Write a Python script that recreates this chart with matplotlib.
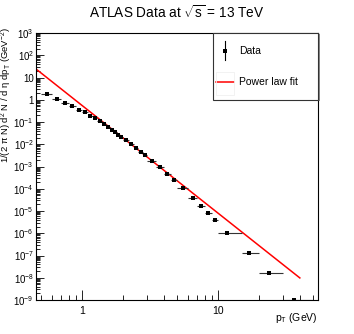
import numpy as np
import matplotlib
matplotlib.use("Agg")
import matplotlib.pyplot as plt
from matplotlib.ticker import LogLocator, FuncFormatter, NullFormatter
from matplotlib.patches import Rectangle
from matplotlib.lines import Line2D

plt.rcParams['font.family'] = ['Liberation Sans', 'DejaVu Sans']
plt.rcParams['mathtext.fontset'] = 'custom'
plt.rcParams['mathtext.rm'] = 'Liberation Sans'
plt.rcParams['mathtext.it'] = 'Liberation Sans'
plt.rcParams['mathtext.default'] = 'regular'

# ATLAS charged particle pT spectrum
pt = [0.55, 0.65, 0.75, 0.85, 0.95, 1.05, 1.15, 1.25, 1.35, 1.45, 1.55, 1.65,
      1.75, 1.85, 1.95, 2.1, 2.3, 2.5, 2.7, 2.9, 3.25, 3.75, 4.25, 4.75,
      5.5, 6.5, 7.5, 8.5, 9.5, 11.7, 17.0, 23.7, 36.0]
pt_lo = [0.5, 0.6, 0.7, 0.8, 0.9, 1.0, 1.1, 1.2, 1.3, 1.4, 1.5, 1.6,
         1.7, 1.8, 1.9, 2.0, 2.2, 2.4, 2.6, 2.8, 3.0, 3.5, 4.0, 4.5,
         5.0, 6.0, 7.0, 8.0, 9.0, 10.0, 15.0, 20.0, 30.0]
pt_hi = [0.6, 0.7, 0.8, 0.9, 1.0, 1.1, 1.2, 1.3, 1.4, 1.5, 1.6, 1.7,
         1.8, 1.9, 2.0, 2.2, 2.4, 2.6, 2.8, 3.0, 3.5, 4.0, 4.5, 5.0,
         6.0, 7.0, 8.0, 9.0, 10.0, 15.0, 20.0, 30.0, 50.0]
yield_ = [1.74, 1.11, 0.75, 0.51, 0.36, 0.27, 0.19, 0.147, 0.111, 0.080,
          0.0595, 0.0449, 0.0345, 0.0269, 0.0211, 0.0150, 0.0098, 0.0066,
          0.0045, 0.0032, 1.7e-3, 9.2e-4, 4.46e-4, 2.35e-4, 1.03e-4,
          3.76e-5, 1.68e-5, 7.9e-6, 3.95e-6, 1.06e-6, 1.3e-7, 1.72e-8,
          1.05e-9]

# power law fit  A * pT^-n
fit_A = 0.557
fit_n = 4.84
fit_range = [0.45, 40.0]

W, H = 354, 334
fig = plt.figure(figsize=(W / 100, H / 100), dpi=100)
ax = fig.add_axes([36 / W, 1 - 300 / H, (318 - 36) / W, (300 - 33) / H])

x = np.array(pt)
xerr = [x - np.array(pt_lo), np.array(pt_hi) - x]
ax.errorbar(x, yield_, xerr=xerr, fmt='s', color='black', ms=2.6, mew=0,
            ecolor='#333333', elinewidth=0.8, capsize=1.8, capthick=0.8,
            zorder=3)

xf = np.geomspace(fit_range[0], fit_range[1], 200)
ax.plot(xf, fit_A * xf ** (-fit_n), color='#ff0000', lw=1.1, zorder=2)

ax.set_xscale('log')
ax.set_yscale('log')
ax.set_xlim(0.459, 54.4)
ax.set_ylim(1e-9, 1e3)


def log_label(v, pos):
    e = int(round(np.log10(v)))
    if e == 0:
        return '1'
    if e == 1:
        return '10'
    return r'$10^{%d}$' % e


ax.xaxis.set_major_locator(LogLocator(base=10, numticks=10))
ax.xaxis.set_minor_locator(LogLocator(base=10, subs=np.arange(2, 10), numticks=20))
ax.yaxis.set_major_locator(LogLocator(base=10, numticks=20))
ax.yaxis.set_minor_locator(LogLocator(base=10, subs=np.arange(2, 10), numticks=30))
ax.xaxis.set_major_formatter(FuncFormatter(log_label))
ax.yaxis.set_major_formatter(FuncFormatter(log_label))
ax.xaxis.set_minor_formatter(NullFormatter())
ax.yaxis.set_minor_formatter(NullFormatter())

ax.tick_params(which='both', direction='in', top=False, right=False,
               labelsize=7.5, width=0.6, color='black')
ax.tick_params(axis='x', which='major', length=7, pad=4)
ax.tick_params(axis='x', which='minor', length=3.5)
ax.tick_params(axis='y', which='major', length=6, pad=1.5, labelsize=7.0)
ax.tick_params(axis='y', which='minor', length=3)
for s in ax.spines.values():
    s.set_linewidth(0.8)

fig.text(177 / W, 1 - 13 / H, r'ATLAS Data at $\sqrt{s}$ = 13 TeV',
         ha='center', va='center', fontsize=9.8)
fig.text(318 / W, 1 - 318 / H, r'p$_{T}$ (GeV)', ha='right', va='center',
         fontsize=7.5)
fig.text(6.5 / W, 1 - 27 / H,
         r'1/(2 $\pi$ N) d$^{2}$ N / d $\eta$ dp$_{T}$ (GeV$^{-2}$)',
         rotation=90, ha='center', va='top', fontsize=6.8)

# legend box (ROOT style, with shadow)
def px(xp, yp):
    return xp / W, 1 - yp / H

lx0, ly0 = px(212.5, 100)
lw_, lh_ = (318 - 212.5) / W, (100 - 33) / H
fig.patches.append(Rectangle((lx0 + 1.5 / W, ly0 - 1.5 / H), lw_, lh_,
                             transform=fig.transFigure, facecolor='#888888',
                             edgecolor='none', zorder=4))
fig.patches.append(Rectangle((lx0, ly0), lw_, lh_, transform=fig.transFigure,
                             facecolor='white', edgecolor='#333333', lw=0.8,
                             zorder=5))
mx, my = px(225, 50.7)
fig.lines.append(Line2D([mx, mx], [px(0, 41)[1], px(0, 60)[1]],
                        transform=fig.transFigure, color='black', lw=0.8,
                        zorder=6))
fig.lines.append(Line2D([mx], [my], transform=fig.transFigure, marker='s',
                        ms=2.6, mew=0, color='black', zorder=6))
fig.text(px(239, 0)[0], my, 'Data', ha='left', va='center', fontsize=7.5,
         zorder=6)
bx0, by0 = px(216, 95)
fig.patches.append(Rectangle((bx0, by0), 18 / W, 23 / H,
                             transform=fig.transFigure, facecolor='none',
                             edgecolor='#f0f0f0', lw=0.6, zorder=6))
fy = px(0, 82.3)[1]
fig.lines.append(Line2D([px(216, 0)[0], px(234, 0)[0]], [fy, fy],
                        transform=fig.transFigure, color='#ff0000', lw=1.1,
                        zorder=6))
fig.text(px(239, 0)[0], fy, 'Power law fit', ha='left', va='center',
         fontsize=7.5, zorder=6)

fig.savefig('out.png', dpi=100)
